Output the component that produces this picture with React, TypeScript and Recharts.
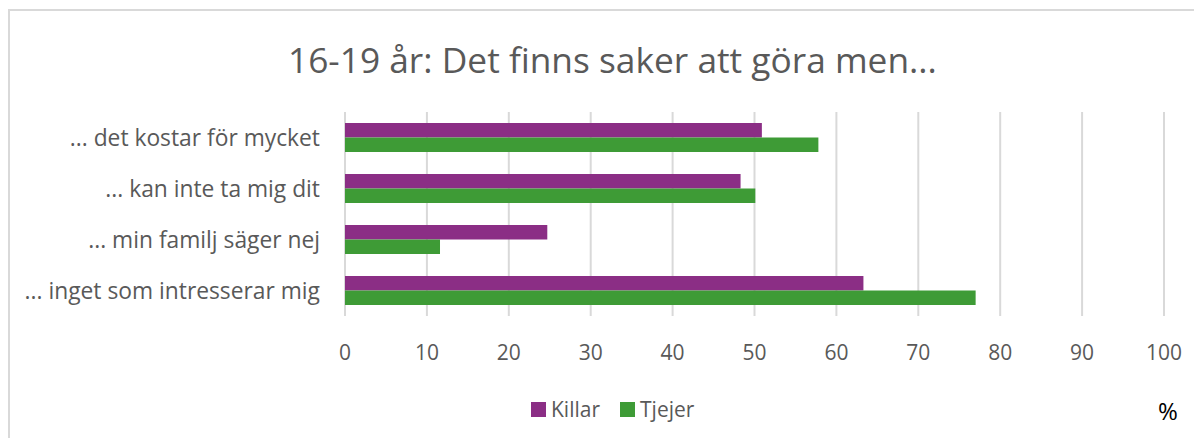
import React from 'react';
import { BarChart, Bar, XAxis, YAxis, CartesianGrid, Legend } from 'recharts';

const categories = [
  '... det kostar för mycket',
  '... kan inte ta mig dit',
  '... min familj säger nej',
  '... inget som intresserar mig',
];
const killar = [50.9, 48.3, 24.7, 63.3];
const tjejer = [57.8, 50.1, 11.6, 77.0];
const xTicks = [0, 10, 20, 30, 40, 50, 60, 70, 80, 90, 100];
const seriesNames = ['Killar', 'Tjejer'];
const titleText = '16-19 år: Det finns saker att göra men...';

const PURPLE = '#8B2E85';
const GREEN = '#3E9B36';
const FONT = '"Open Sans", "Noto Sans", sans-serif';
const GREY = '#595959';

const data = categories.map((c, i) => ({ name: c, Killar: killar[i], Tjejer: tjejer[i] }));

const LegendContent = () => (
  <div style={{ display: 'flex', alignItems: 'center', fontFamily: FONT, fontSize: 21, color: GREY }}>
    {seriesNames.map((n, i) => (
      <div key={n} style={{ display: 'flex', alignItems: 'center', marginRight: i === 0 ? 20 : 0 }}>
        <span style={{ display: 'inline-block', width: 15, height: 15, background: i === 0 ? PURPLE : GREEN, marginRight: 5 }} />
        <span>{n}</span>
      </div>
    ))}
  </div>
);

export default function App() {
  return (
    <div style={{ paddingTop: 1 }}>
      <div style={{ position: 'relative', width: 1194, height: 440 }}>
        <div style={{ position: 'absolute', left: 0, top: 0, width: 1194, height: 440, border: '2px solid #d9d9d9', boxSizing: 'border-box' }} />
        <div style={{ position: 'absolute', left: 280, top: 26, fontFamily: FONT, fontSize: 35.3, color: GREY, whiteSpace: 'nowrap' }}>
          {titleText}
        </div>
        <div style={{ position: 'absolute', left: 1150, top: 385, fontFamily: FONT, fontSize: 24, color: '#000' }}>%</div>
        <div style={{ position: 'absolute', left: 0, top: -1 }}>
          <BarChart
            width={1194}
            height={430}
            data={data}
            layout="vertical"
            margin={{ top: 104, right: 38, bottom: 82, left: 10 }}
            barGap={0}
          >
            <CartesianGrid horizontal={false} stroke="#d9d9d9" strokeWidth={2} />
            <XAxis
              type="number"
              domain={[0, 100]}
              ticks={xTicks}
              axisLine={false}
              tickLine={false}
              tickSize={0}
              tickMargin={29}
              height={40}
              tick={{ fill: GREY, fontFamily: FONT, fontSize: 21 }}
            />
            <YAxis
              type="category"
              dataKey="name"
              width={327}
              axisLine={false}
              tickLine={false}
              tickSize={0}
              tickMargin={25}
              tick={{ fill: GREY, fontFamily: FONT, fontSize: 22.8 }}
            />
            <Legend
              layout="horizontal"
              verticalAlign="middle"
              align="center"
              content={<LegendContent />}
              wrapperStyle={{ top: 387, left: 523, width: 260 }}
            />
            <Bar dataKey="Killar" fill={PURPLE} barSize={14.5} isAnimationActive={false} />
            <Bar dataKey="Tjejer" fill={GREEN} barSize={14.5} isAnimationActive={false} />
          </BarChart>
        </div>
      </div>
    </div>
  );
}
